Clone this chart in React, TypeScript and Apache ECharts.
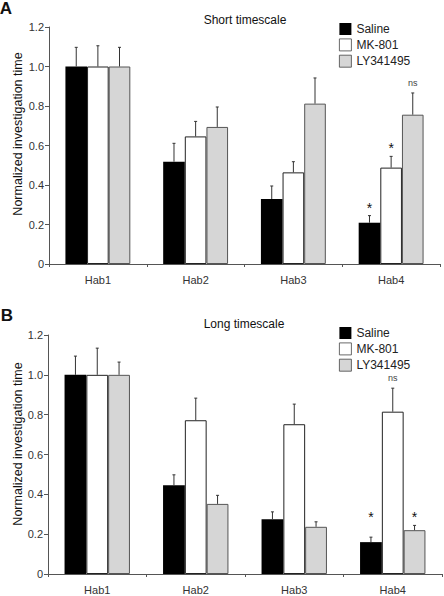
import React, { useEffect, useRef } from "react";
import * as echarts from "echarts";

const categories = ["Hab1", "Hab2", "Hab3", "Hab4"];
const seriesNames = ["Saline", "MK-801", "LY341495"];
const yTicks = [0, 0.2, 0.4, 0.6, 0.8, 1.0, 1.2];

// Short timescale (panel A): means and upper error-bar ends
const shortSaline = [1.0, 0.518, 0.329, 0.209];
const shortMK = [1.0, 0.646, 0.464, 0.488];
const shortLY = [1.0, 0.694, 0.812, 0.756];
const shortSalineErr = [1.097, 0.611, 0.395, 0.245];
const shortMKErr = [1.105, 0.722, 0.518, 0.545];
const shortLYErr = [1.097, 0.795, 0.942, 0.866];
const shortSalineMark = ["", "", "", "*"];
const shortMKMark = ["", "", "", "*"];
const shortLYMark = ["", "", "", "ns"];

// Long timescale (panel B)
const longSaline = [1.0, 0.446, 0.275, 0.160];
const longMK = [1.0, 0.772, 0.752, 0.815];
const longLY = [1.0, 0.352, 0.237, 0.220];
const longSalineErr = [1.094, 0.498, 0.312, 0.185];
const longMKErr = [1.134, 0.883, 0.853, 0.933];
const longLYErr = [1.064, 0.395, 0.262, 0.244];
const longSalineMark = ["", "", "", "*"];
const longMKMark = ["", "", "", "ns"];
const longLYMark = ["", "", "", "*"];
// value level at which each significance mark sits
const longSalineMarkLevel = [0, 0, 0, 0.295];
const longLYMarkLevel = [0, 0, 0, 0.295];

const FONT = "'Liberation Sans', Arial, Helvetica, sans-serif";
const CAT_GAP = 0.336;
const fills = ["#000000", "#ffffff", "#d6d6d6"];
const borders = ["#000000", "#222222", "#555555"];

export default function App() {
  const ref = useRef<HTMLDivElement>(null);
  useEffect(() => {
    if (!ref.current) return;
    const chart = echarts.init(ref.current, null, { renderer: "svg" });

    const barSeries = (name: string, idx: number, data: number[], ax: number) => ({
      type: "bar",
      name,
      xAxisIndex: ax,
      yAxisIndex: ax,
      data,
      barGap: "0%",
      barCategoryGap: (CAT_GAP * 100).toFixed(1) + "%",
      itemStyle: { color: fills[idx], borderColor: borders[idx], borderWidth: idx === 0 ? 0 : 1 },
      z: 2,
    });

    const errSeries = (
      name: string,
      idx: number,
      means: number[],
      errs: number[],
      marks: string[],
      levels: number[] | null,
      ax: number
    ) => ({
      type: "custom",
      name,
      xAxisIndex: ax,
      yAxisIndex: ax,
      z: 5,
      silent: true,
      encode: { x: 0, y: [1, 2] },
      data: means.map((m, i) => [i, m, errs[i], levels ? levels[i] : 0]),
      renderItem: (params: any, api: any) => {
        const c = api.value(0);
        const p = api.coord([c, api.value(1)]);
        const q = api.coord([c, api.value(2)]);
        const band = api.size([1, 0])[0];
        const bw = (band * (1 - CAT_GAP)) / 3;
        const x = p[0] + (idx - 1) * bw;
        const children: any[] = [
          { type: "line", shape: { x1: x, y1: p[1], x2: x, y2: q[1] }, style: { stroke: "#333", lineWidth: 1 } },
          { type: "line", shape: { x1: x - 1.5, y1: q[1], x2: x + 1.5, y2: q[1] }, style: { stroke: "#333", lineWidth: 1 } },
        ];
        const mk = marks[params.dataIndex];
        if (mk) {
          const lvl = api.value(3);
          const y = lvl > 0 ? api.coord([c, lvl])[1] : q[1] - 10;
          children.push({
            type: "text",
            style: {
              text: mk,
              x,
              y: mk === "*" ? y + 2 : y,
              align: "center",
              verticalAlign: "middle",
              fontFamily: FONT,
              fontSize: mk === "*" ? 14 : 9,
              fill: mk === "*" ? "#111" : "#444",
            },
          });
        }
        return { type: "group", children };
      },
    });

    const xAxis = (gi: number) => ({
      type: "category",
      gridIndex: gi,
      data: categories,
      axisLine: { lineStyle: { color: "#555", width: 1 } },
      axisTick: { show: true, length: 3, alignWithLabel: false, lineStyle: { color: "#555" } },
      axisLabel: { color: "#333", fontSize: 11, fontFamily: FONT, margin: 10 },
    });
    const yAxis = (gi: number) => ({
      type: "value",
      gridIndex: gi,
      min: 0,
      max: 1.2,
      interval: 0.2,
      splitLine: { show: false },
      axisLine: { show: true, lineStyle: { color: "#555", width: 1 } },
      axisTick: { show: true, length: 4, lineStyle: { color: "#555" } },
      axisLabel: {
        color: "#333",
        fontSize: 11,
        fontFamily: FONT,
        margin: 5,
        formatter: (v: number) => (yTicks.indexOf(Math.round(v * 10) / 10) >= 0 ? (v === 0 ? "0" : v.toFixed(1)) : ""),
      },
    });

    const legend = (top: number) => ({
      data: seriesNames.map((n, i) => ({
        name: n,
        itemStyle: { color: fills[i], borderColor: i === 0 ? "#000" : "#444", borderWidth: i === 0 ? 0 : 0.8 },
      })),
      orient: "vertical",
      left: 339,
      top,
      icon: "rect",
      itemWidth: 12,
      itemHeight: 12,
      itemGap: 3.5,
      selectedMode: false,
      textStyle: { fontFamily: FONT, fontSize: 12, color: "#222" },
      padding: 0,
    });

    const txt = (text: string, x: number, y: number, size: number, bold = false, rot = 0) => ({
      type: "text",
      x,
      y,
      rotation: rot,
      style: {
        text,
        fontFamily: FONT,
        fontSize: size,
        fontWeight: bold ? "bold" : "normal",
        fill: "#111",
        align: "center",
        verticalAlign: "middle",
      },
    });

    chart.setOption({
      animation: false,
      backgroundColor: "#ffffff",
      grid: [
        { left: 49, top: 27, width: 391, height: 237 },
        { left: 48, top: 335, width: 394, height: 239 },
      ],
      legend: [legend(23), legend(327)],
      xAxis: [xAxis(0), xAxis(1)],
      yAxis: [yAxis(0), yAxis(1)],
      graphic: [
        txt("A", 6, 8, 17, true),
        txt("B", 7, 315, 17, true),
        txt("Short timescale", 245, 20, 12),
        txt("Long timescale", 244, 324, 12),
        txt("Normalized investigation time", 18, 134, 12.5, false, Math.PI / 2),
        txt("Normalized investigation time", 18, 444, 12.5, false, Math.PI / 2),
      ],
      series: [
        barSeries(seriesNames[0], 0, shortSaline, 0),
        barSeries(seriesNames[1], 1, shortMK, 0),
        barSeries(seriesNames[2], 2, shortLY, 0),
        barSeries(seriesNames[0], 0, longSaline, 1),
        barSeries(seriesNames[1], 1, longMK, 1),
        barSeries(seriesNames[2], 2, longLY, 1),
        errSeries("err-a-0", 0, shortSaline, shortSalineErr, shortSalineMark, null, 0),
        errSeries("err-a-1", 1, shortMK, shortMKErr, shortMKMark, null, 0),
        errSeries("err-a-2", 2, shortLY, shortLYErr, shortLYMark, null, 0),
        errSeries("err-b-0", 0, longSaline, longSalineErr, longSalineMark, longSalineMarkLevel, 1),
        errSeries("err-b-1", 1, longMK, longMKErr, longMKMark, null, 1),
        errSeries("err-b-2", 2, longLY, longLYErr, longLYMark, longLYMarkLevel, 1),
      ],
    });
    return () => chart.dispose();
  }, []);

  return (
    <div
      ref={ref}
      style={{ position: "absolute", left: 0, top: 0, width: 444, height: 596, background: "#fff" }}
    />
  );
}
